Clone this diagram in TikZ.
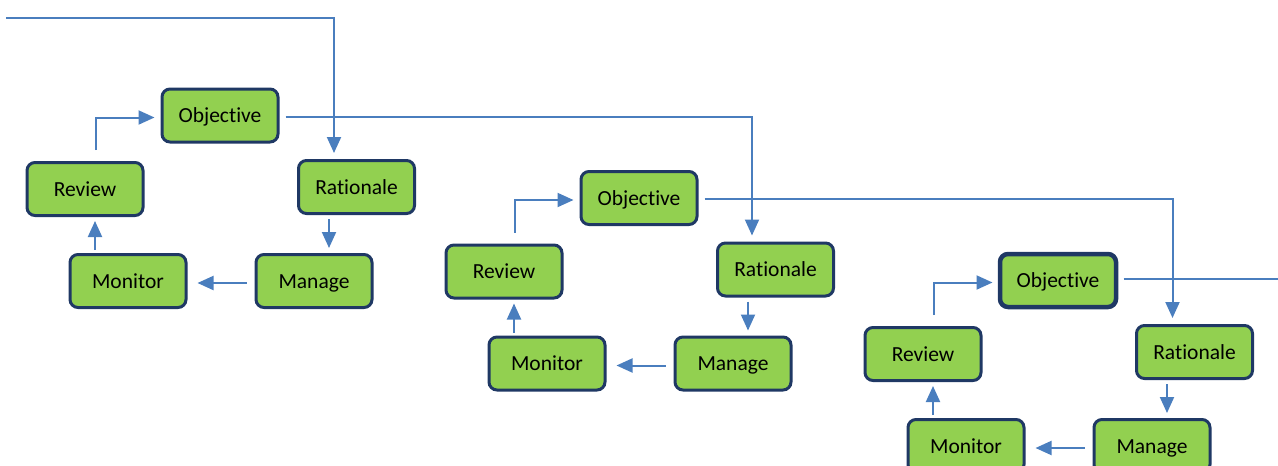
\documentclass[tikz,border=0pt]{standalone}
\usepackage{fontspec}
\setmainfont{Carlito}[Ligatures=CommonOff]
\usetikzlibrary{arrows.meta,calc}
\definecolor{boxfill}{RGB}{146,208,80}
\definecolor{boxline}{RGB}{31,56,100}
\definecolor{flow}{RGB}{74,126,190}
\tikzset{
  stage/.style={draw=boxline, line width=3pt, fill=boxfill, rounded corners=8pt,
    minimum width=116pt, minimum height=53pt, inner sep=0pt,
    text height=14.5pt, text depth=0pt,
    font=\fontsize{21.5}{24}\selectfont, text=black},
  flowarrow/.style={draw=flow, line width=2pt,
    -{Triangle[length=16pt,width=14pt]}},
  flowline/.style={draw=flow, line width=2pt},
}
\begin{document}
\begin{tikzpicture}[x=1pt,y=-1pt]
  \useasboundingbox (0,0) rectangle (1278,466);
  \clip (0,0) rectangle (1278,466);
  % three identical planning cycles, each shifted down and to the right
  \foreach \i/\dx/\dy in {1/0/0, 2/419/82.5, 3/838/165}{
    \begin{scope}[shift={(\dx,\dy)}]
      \node[stage] (o\i)   at (220,115.5) {Objective};
      \node[stage] (r\i)   at (356.5,187) {Rationale};
      \node[stage] (rev\i) at (85,189)    {Review};
      \node[stage] (mon\i) at (128,281)   {Monitor};
      \node[stage] (man\i) at (314,281)   {Manage};
    \end{scope}
    % arrows round the cycle
    \coordinate (up\i) at ($(mon\i.north)+(-33,-3)$);
    \coordinate (upend\i) at ($(rev\i.south)+(0,4)$);
    \draw[flowarrow] ($(r\i.south)+(-27.5,4)$) -- ($(man\i.north)+(15,-5)$);
    \draw[flowarrow] ($(man\i.west)+(-8,2)$) -- ($(mon\i.east)+(10,2)$);
    \draw[flowarrow] (up\i) -- (up\i |- upend\i);
    \draw[flowarrow] ($(rev\i.north)+(11,-11)$) |- ($(o\i.west)+(-6,2)$);
  }
  % the last objective is highlighted
  \node[stage, line width=4.5pt] at (o3) {Objective};
  % links between the cycles
  \coordinate (start) at (6,17.7);
  \draw[flowarrow] (start) -| ($(r1.north)+(-22.5,-6)$);
  \draw[flowarrow] ($(o1.east)+(6,1)$) -| ($(r2.north)+(-23.5,-6)$);
  \draw[flowarrow] ($(o2.east)+(6,1)$) -| ($(r3.north)+(-22,-6)$);
  \coordinate (exit) at (1278,0);
  \coordinate (exitstart) at ($(o3.east)+(6,-1.5)$);
  \draw[flowline] (exitstart) -- (exitstart -| exit);
\end{tikzpicture}
\end{document}
